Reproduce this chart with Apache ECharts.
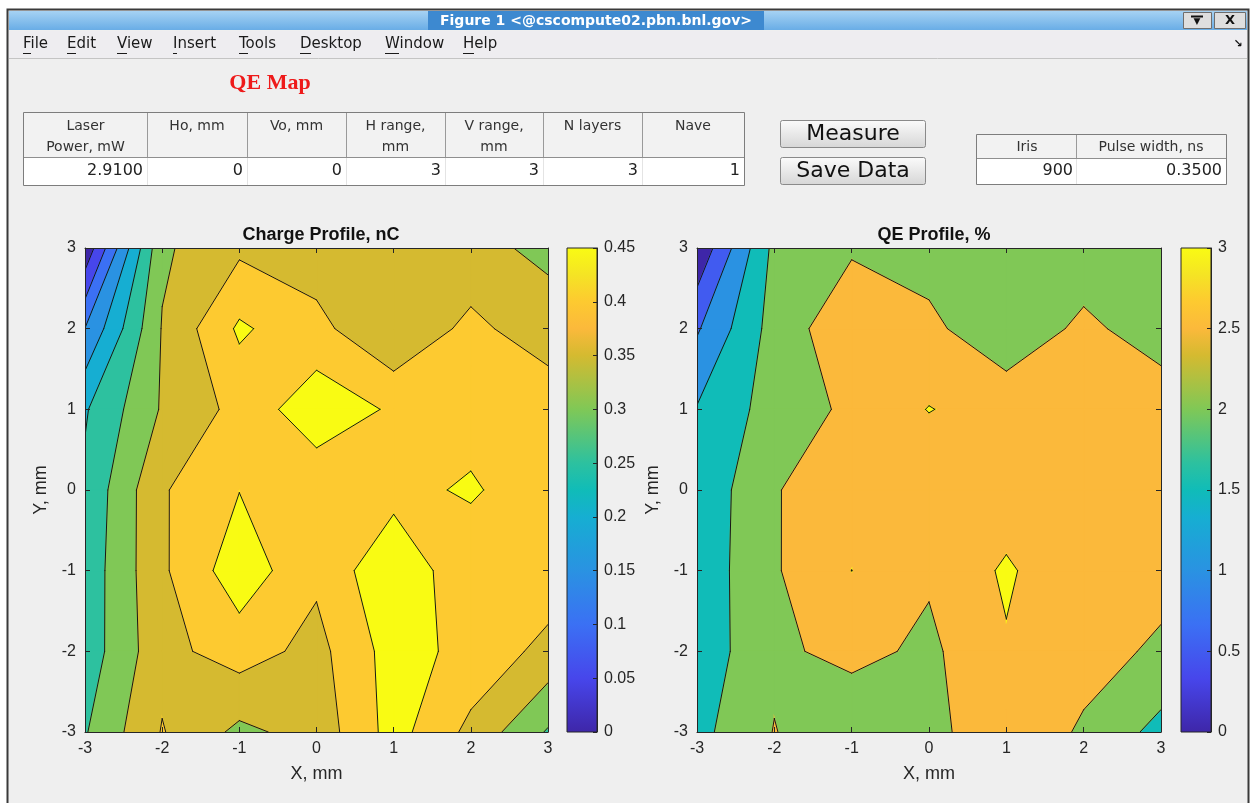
<!DOCTYPE html>
<html>
<head>
<meta charset="utf-8">
<title>QE Map</title>
<script src="https://cdn.jsdelivr.net/npm/echarts@6/dist/echarts.min.js"></script>
<style>
html, body { margin: 0; padding: 0; background: #fff; }
#chart { width: 1252px; height: 803px; }
</style>
</head>
<body>
<div id="chart"></div>
<script>
// scan grid, mm. map rows run from y = 3 (top) down to y = -3
const gridX = [-3, -2, -1, 0, 1, 2, 3]
const gridY = [3, 2, 1, 0, -1, -2, -3]

// charge per point, nC
const charge = [
  [0.012, 0.342, 0.390, 0.373, 0.370, 0.360, 0.342],
  [0.151, 0.353, 0.458, 0.415, 0.352, 0.415, 0.366],
  [0.245, 0.355, 0.416, 0.483, 0.443, 0.424, 0.440],
  [0.260, 0.395, 0.449, 0.414, 0.432, 0.458, 0.410],
  [0.268, 0.392, 0.480, 0.410, 0.492, 0.410, 0.430],
  [0.271, 0.385, 0.423, 0.384, 0.472, 0.434, 0.385],
  [0.296, 0.403, 0.338, 0.370, 0.470, 0.387, 0.295]
]

// QE per point, %
const qe = [
  [0.075, 2.138, 2.438, 2.331, 2.313, 2.250, 2.138],
  [0.944, 2.206, 2.863, 2.594, 2.200, 2.594, 2.288],
  [1.531, 2.219, 2.600, 3.019, 2.769, 2.650, 2.750],
  [1.625, 2.469, 2.806, 2.588, 2.700, 2.863, 2.563],
  [1.675, 2.450, 3.002, 2.563, 3.075, 2.563, 2.688],
  [1.694, 2.406, 2.644, 2.400, 2.950, 2.713, 2.406],
  [1.850, 2.519, 2.113, 2.313, 2.938, 2.419, 1.844]
]

const chargeLevels = [0.05, 0.1, 0.15, 0.2, 0.25, 0.3, 0.35, 0.4, 0.45]
const qeLevels = [0.5, 1, 1.5, 2, 2.5, 3]
const chargeBarMax = 0.45
const chargeBarStep = 0.05
const qeBarMax = 3
const qeBarStep = 0.5

const paramHeaders = [['Laser', 'Power, mW'], ['Ho, mm'], ['Vo, mm'], ['H range,', 'mm'], ['V range,', 'mm'], ['N layers'], ['Nave']]
const paramValues = ['2.9100', '0', '0', '3', '3', '3', '1']
const beamHeaders = ['Iris', 'Pulse width, ns']
const beamValues = ['900', '0.3500']
const menuItems = ['File', 'Edit', 'View', 'Insert', 'Tools', 'Desktop', 'Window', 'Help']

const uiFont = '"DejaVu Sans", sans-serif'
const axisFont = '"Liberation Sans", Arial, sans-serif'
const ink = '#262626'

// parula-like colormap
const parulaStops = [
  [0.000, '#3e26a8'], [0.111, '#4746eb'], [0.222, '#3b70f4'], [0.333, '#2a92e2'],
  [0.444, '#16aed2'], [0.500, '#10bcb8'], [0.556, '#2dc19f'], [0.667, '#80c856'],
  [0.778, '#d5ba30'], [0.833, '#fbb93b'], [0.889, '#fdca30'], [0.944, '#f5e424'],
  [1.000, '#f9fb13']
]

function hexRgb(h) {
  return [1, 3, 5].map(k => parseInt(h.slice(k, k + 2), 16))
}

function parula(t) {
  t = Math.max(0, Math.min(1, t))
  for (let k = 1; k < parulaStops.length; k++) {
    const [o1, c1] = parulaStops[k]
    const [o0, c0] = parulaStops[k - 1]
    if (t <= o1) {
      const f = (t - o0) / (o1 - o0)
      const a = hexRgb(c0)
      const b = hexRgb(c1)
      return 'rgb(' + a.map((v, n) => Math.round(v + f * (b[n] - v))).join(',') + ')'
    }
  }
  return parulaStops[parulaStops.length - 1][1]
}

function bandColors(levels, max) {
  return [parula(0)].concat(levels.map(l => parula(l / max)))
}

// ---- contouring on one grid cell (linear along the edges) ----
function cellCorners(z, i, j) {
  return [
    { x: gridX[i], y: gridY[j + 1], v: z[j + 1][i] },
    { x: gridX[i + 1], y: gridY[j + 1], v: z[j + 1][i + 1] },
    { x: gridX[i + 1], y: gridY[j], v: z[j][i + 1] },
    { x: gridX[i], y: gridY[j], v: z[j][i] }
  ]
}

function cross(a, b, lev) {
  const t = (lev - a.v) / (b.v - a.v)
  return [a.x + t * (b.x - a.x), a.y + t * (b.y - a.y)]
}

function centerUp(c, lev) {
  return (c[0].v + c[1].v + c[2].v + c[3].v) / 4 >= lev
}

// part of the cell where value >= lev
function regionAbove(c, lev) {
  const up = c.map(p => p.v >= lev)
  const saddle = up[0] === up[2] && up[1] === up[3] && up[0] !== up[1]
  if (saddle && !centerUp(c, lev)) {
    const polys = []
    for (let k = 0; k < 4; k++) {
      if (!up[k]) continue
      const prev = c[(k + 3) % 4]
      const next = c[(k + 1) % 4]
      polys.push([cross(prev, c[k], lev), [c[k].x, c[k].y], cross(c[k], next, lev)])
    }
    return polys
  }
  const out = []
  for (let k = 0; k < 4; k++) {
    const p = c[k]
    const q = c[(k + 1) % 4]
    if (up[k]) out.push([p.x, p.y])
    if (up[k] !== up[(k + 1) % 4]) out.push(cross(p, q, lev))
  }
  return out.length >= 3 ? [out] : []
}

function segments(c, lev) {
  const up = c.map(p => p.v >= lev)
  const edge = []
  let n = 0
  for (let k = 0; k < 4; k++) {
    if (up[k] !== up[(k + 1) % 4]) {
      edge[k] = cross(c[k], c[(k + 1) % 4], lev)
      n++
    }
  }
  if (n === 2) {
    return [edge.filter(Boolean)]
  }
  if (n === 4) {
    const cu = centerUp(c, lev)
    const segs = []
    for (let k = 0; k < 4; k++) {
      if (up[k] !== cu) segs.push([edge[(k + 3) % 4], edge[k]])
    }
    return segs
  }
  return []
}

const cells = []
for (let j = 0; j < gridY.length - 1; j++) {
  for (let i = 0; i < gridX.length - 1; i++) {
    cells.push([(gridX[i] + gridX[i + 1]) / 2, (gridY[j] + gridY[j + 1]) / 2, i, j])
  }
}

// one item per (band, cell), bands in rising order so higher bands paint last
function bandItems(levels) {
  const items = []
  for (let k = 0; k <= levels.length; k++) {
    cells.forEach(c => items.push(c.concat(k)))
  }
  return items
}

function fillSeries(z, levels, colors, axisIdx) {
  return {
    type: 'custom',
    xAxisIndex: axisIdx,
    yAxisIndex: axisIdx,
    clip: true,
    silent: true,
    z: 2,
    data: bandItems(levels),
    renderItem(params, api) {
      const c = cellCorners(z, api.value(2), api.value(3))
      const k = api.value(4)
      const px = pts => pts.map(p => api.coord(p))
      const polys = k === 0 ? [c.map(p => [p.x, p.y])] : regionAbove(c, levels[k - 1])
      return {
        type: 'group',
        children: polys.map(poly => ({
          type: 'polygon',
          z2: k,
          shape: { points: px(poly) },
          style: { fill: colors[k], stroke: colors[k], lineWidth: 1.2 }
        }))
      }
    }
  }
}

function lineSeries(z, levels, axisIdx) {
  return {
    type: 'custom',
    xAxisIndex: axisIdx,
    yAxisIndex: axisIdx,
    clip: true,
    silent: true,
    z: 3,
    data: cells,
    renderItem(params, api) {
      const c = cellCorners(z, api.value(2), api.value(3))
      const children = []
      levels.forEach(lev => {
        segments(c, lev).forEach(s => {
          const a = api.coord(s[0])
          const b = api.coord(s[1])
          children.push({
            type: 'line',
            shape: { x1: a[0], y1: a[1], x2: b[0], y2: b[1] },
            style: { stroke: '#161616', lineWidth: 1, lineCap: 'round' }
          })
        })
      })
      return { type: 'group', children }
    }
  }
}

function barSeries(max, axisIdx) {
  return {
    type: 'custom',
    xAxisIndex: axisIdx,
    yAxisIndex: axisIdx,
    silent: true,
    z: 2,
    data: [[0.5, max / 2]],
    renderItem(params, api) {
      const p0 = api.coord([0, max])
      const p1 = api.coord([1, 0])
      return {
        type: 'rect',
        shape: { x: p0[0], y: p0[1], width: p1[0] - p0[0], height: p1[1] - p0[1] },
        style: {
          fill: new echarts.graphic.LinearGradient(0, 1, 0, 0,
            parulaStops.map(s => ({ offset: s[0], color: s[1] }))),
          stroke: ink,
          lineWidth: 1
        }
      }
    }
  }
}

const tickFont = { fontFamily: axisFont, fontSize: 16, color: ink }
const boxLine = { show: true, onZero: false, lineStyle: { color: ink, width: 1 } }
const inTick = { show: true, inside: true, length: 5, lineStyle: { color: ink } }

function mapXAxes(gridIndex) {
  return [{
    type: 'value', gridIndex, min: -3, max: 3, interval: 1, z: 10,
    axisLine: boxLine, axisTick: inTick, splitLine: { show: false },
    axisLabel: Object.assign({ margin: 9 }, tickFont),
    name: 'X, mm', nameLocation: 'middle', nameGap: 33,
    nameTextStyle: { fontFamily: axisFont, fontSize: 18, color: ink }
  }, {
    type: 'value', gridIndex, position: 'top', min: -3, max: 3, interval: 1, z: 10,
    axisLine: boxLine, axisTick: inTick, splitLine: { show: false }, axisLabel: { show: false }
  }]
}

function mapYAxes(gridIndex) {
  return [{
    type: 'value', gridIndex, min: -3, max: 3, interval: 1, z: 10,
    axisLine: boxLine, axisTick: inTick, splitLine: { show: false },
    axisLabel: Object.assign({ margin: 9 }, tickFont),
    name: 'Y, mm', nameLocation: 'middle', nameGap: 35, nameRotate: 90,
    nameTextStyle: { fontFamily: axisFont, fontSize: 18, color: ink }
  }, {
    type: 'value', gridIndex, position: 'right', min: -3, max: 3, interval: 1, z: 10,
    axisLine: boxLine, axisTick: inTick, splitLine: { show: false }, axisLabel: { show: false }
  }]
}

function barXAxis(gridIndex) {
  return { type: 'value', gridIndex, min: 0, max: 1, show: false }
}

function barYAxis(gridIndex, max, step) {
  return {
    type: 'value', gridIndex, position: 'right', min: 0, max, interval: step, z: 10,
    axisLine: boxLine,
    axisTick: { show: true, inside: true, length: 4, lineStyle: { color: ink } },
    splitLine: { show: false },
    axisLabel: Object.assign({ margin: 7, formatter: v => String(+v.toFixed(2)) }, tickFont)
  }
}

// ---- window chrome ----
function txt(x, y, text, font, fill, align, vAlign) {
  return {
    type: 'text', x, y, silent: true,
    style: {
      text, font, fill: fill || '#222',
      align: align || 'left', textAlign: align || 'left',
      verticalAlign: vAlign || 'middle', textVerticalAlign: vAlign || 'middle'
    }
  }
}
function box(x, y, w, h, fill, stroke, lw) {
  return {
    type: 'rect', silent: true,
    shape: { x, y, width: w, height: h },
    style: { fill: fill || 'none', stroke: stroke || null, lineWidth: lw || 1 }
  }
}
function seg(x1, y1, x2, y2, stroke, lw) {
  return {
    type: 'line', silent: true,
    shape: { x1, y1, x2, y2 },
    style: { stroke, lineWidth: lw || 1 }
  }
}

const chrome = []
chrome.push(box(0, 0, 1252, 9, '#ffffff'))
chrome.push(box(0, 0, 7, 803, '#ffffff'))
chrome.push(box(1249, 0, 3, 803, '#ffffff'))
chrome.push(box(7.5, 9.5, 1241, 800, null, '#3a3a3a', 2))
// title bar
chrome.push({
  type: 'rect', silent: true,
  shape: { x: 9, y: 11, width: 1238, height: 19 },
  style: { fill: new echarts.graphic.LinearGradient(0, 0, 0, 1, [
    { offset: 0, color: '#a6d2f3' }, { offset: 1, color: '#69ade6' }]) }
})
chrome.push(box(428, 11, 336, 19, '#3d89d0'))
chrome.push(txt(596, 21, 'Figure 1 <@cscompute02.pbn.bnl.gov>', 'bold 14px ' + uiFont, '#ffffff', 'center'))
chrome.push(box(1183.5, 12.5, 28, 16, '#dedede', '#6e6e6e'))
chrome.push(seg(1191, 16.5, 1203, 16.5, '#111', 2))
chrome.push(txt(1197, 22, '▼', 'bold 9px ' + uiFont, '#111', 'center'))
chrome.push(box(1214.5, 12.5, 31, 16, '#dedede', '#6e6e6e'))
chrome.push(txt(1230, 21, 'X', 'bold 13px ' + uiFont, '#111', 'center'))
// menu bar
chrome.push(box(9, 31, 1238, 27, '#eeedf0'))
chrome.push(seg(9, 58.5, 1247, 58.5, '#c4c4c4', 1))
const menuX = [23, 67, 117, 173, 239, 300, 385, 463]
const firstW = [8, 9, 10, 4, 9, 11, 14, 11]
menuItems.forEach((m, k) => {
  chrome.push(txt(menuX[k], 44, m, '15px ' + uiFont, '#1a1a1a'))
  chrome.push(seg(menuX[k], 53.5, menuX[k] + firstW[k], 53.5, '#1a1a1a', 1))
})
chrome.push(txt(1238, 44, '↘', 'bold 11px ' + uiFont, '#111', 'center'))
// heading
chrome.push(txt(270, 83, 'QE Map', 'bold 22px "Liberation Serif", serif', '#ee1a1a', 'center'))
// parameter table
const colEdges = [24, 147, 247, 346, 445, 543, 642, 744]
chrome.push(box(24, 158, 720, 27, '#ffffff'))
chrome.push(box(24, 113, 720, 45, '#f2f2f2'))
colEdges.slice(1, -1).forEach(x => {
  chrome.push(seg(x + 0.5, 113, x + 0.5, 158, '#9a9a9a', 1))
  chrome.push(seg(x + 0.5, 158, x + 0.5, 185, '#e4e4e4', 1))
})
chrome.push(seg(24, 157.5, 744, 157.5, '#8f8f8f', 1))
chrome.push(box(23.5, 112.5, 721, 73, null, '#7d7d7d', 1))
paramHeaders.forEach((h, k) => {
  const cx = (colEdges[k] + colEdges[k + 1]) / 2
  h.forEach((line, n) => chrome.push(txt(cx, 126 + n * 21, line, '14px ' + uiFont, '#333', 'center')))
  chrome.push(txt(colEdges[k + 1] - 4, 171, paramValues[k], '16px ' + uiFont, '#222', 'right'))
})
// buttons
function button(y, label) {
  chrome.push({
    type: 'rect', silent: true,
    shape: { x: 780.5, y: y + 0.5, width: 145, height: 27, r: 2 },
    style: {
      fill: new echarts.graphic.LinearGradient(0, 0, 0, 1, [
        { offset: 0, color: '#fbfbfb' }, { offset: 1, color: '#d6d6d6' }]),
      stroke: '#8a8a8a', lineWidth: 1
    }
  })
  chrome.push(txt(853, y + 14, label, '22px ' + uiFont, '#111', 'center'))
}
button(120, 'Measure')
button(157, 'Save Data')
// beam table
chrome.push(box(977, 159, 249, 25, '#ffffff'))
chrome.push(box(977, 135, 249, 24, '#f2f2f2'))
chrome.push(seg(1076.5, 135, 1076.5, 159, '#9a9a9a', 1))
chrome.push(seg(1076.5, 159, 1076.5, 184, '#e4e4e4', 1))
chrome.push(seg(977, 158.5, 1226, 158.5, '#8f8f8f', 1))
chrome.push(box(976.5, 134.5, 250, 50, null, '#7d7d7d', 1))
chrome.push(txt(1027, 147, beamHeaders[0], '14px ' + uiFont, '#333', 'center'))
chrome.push(txt(1151, 147, beamHeaders[1], '14px ' + uiFont, '#333', 'center'))
chrome.push(txt(1073, 171, beamValues[0], '16px ' + uiFont, '#222', 'right'))
chrome.push(txt(1222, 171, beamValues[1], '16px ' + uiFont, '#222', 'right'))

const chart = echarts.init(document.getElementById('chart'))

chart.setOption({
  backgroundColor: '#efefef',
  animation: false,
  title: [{
    text: 'Charge Profile, nC', left: 316, top: 221, textAlign: 'center',
    textStyle: { fontFamily: axisFont, fontSize: 18, fontWeight: 'bold', color: '#111' }
  }, {
    text: 'QE Profile, %', left: 929, top: 221, textAlign: 'center',
    textStyle: { fontFamily: axisFont, fontSize: 18, fontWeight: 'bold', color: '#111' }
  }],
  grid: [
    { left: 85, top: 248, width: 463, height: 484, outerBoundsMode: 'none' },
    { left: 567, top: 248, width: 30, height: 484, outerBoundsMode: 'none' },
    { left: 697, top: 248, width: 464, height: 484, outerBoundsMode: 'none' },
    { left: 1181, top: 248, width: 30, height: 484, outerBoundsMode: 'none' }
  ],
  xAxis: [].concat(mapXAxes(0), [barXAxis(1)], mapXAxes(2), [barXAxis(3)]),
  yAxis: [].concat(mapYAxes(0), [barYAxis(1, chargeBarMax, chargeBarStep)],
    mapYAxes(2), [barYAxis(3, qeBarMax, qeBarStep)]),
  graphic: { elements: chrome },
  series: [
    fillSeries(charge, chargeLevels, bandColors(chargeLevels, chargeBarMax), 0),
    lineSeries(charge, chargeLevels, 0),
    barSeries(chargeBarMax, 2),
    fillSeries(qe, qeLevels, bandColors(qeLevels, qeBarMax), 3),
    lineSeries(qe, qeLevels, 3),
    barSeries(qeBarMax, 5)
  ]
})
</script>
</body>
</html>
